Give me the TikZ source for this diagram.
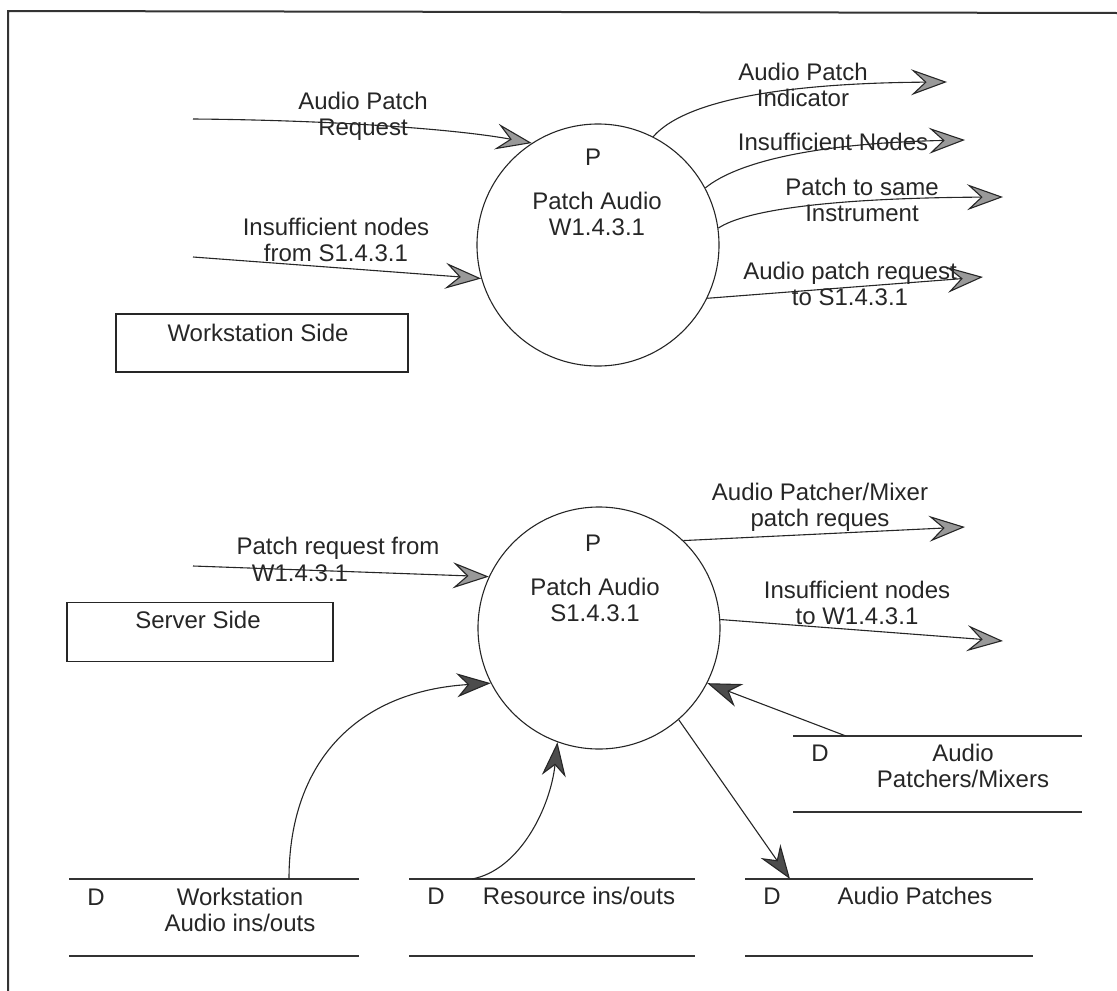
\documentclass[tikz,border=0pt]{standalone}
\usepackage{fontspec}
\setmainfont{Liberation Sans}
\usetikzlibrary{arrows.meta}
\begin{document}
\begin{tikzpicture}[x=1pt,y=-1pt,
  every node/.style={font=\fontsize{24}{26}\selectfont, text=black!85, inner sep=0pt},
  lbl/.style={align=center},
  proc/.style={draw=black!85, circle, minimum size=242pt, line width=1.1pt},
  flow/.style={draw=black!85, line width=1.1pt,
    -{Stealth[length=36pt,width=26pt,inset=14pt,fill=black!40]}},
  dflow/.style={draw=black!85, line width=1.1pt,
    -{Stealth[length=34pt,width=24pt,inset=11pt,fill=black!70]}},
  storeline/.style={line width=1.8pt, draw=black!80},
  sidebox/.style={draw=black!85, line width=1.1pt, rectangle}
]
\useasboundingbox (0,0) rectangle (1117,991);

% outer frame
\draw[line width=2pt, black!80] (8,995) -- (8,11) -- (1117,13);

% ---------------- workstation side ----------------
\node[proc] (pa1) at (598,245) {};
\node (pa1p) at (593,157) {P};
\node[lbl] (pa1t) at (597,214) {Patch Audio\\W1.4.3.1};

\node[sidebox, minimum width=292pt, minimum height=58pt] (wsbox) at (262,343) {};
\node (wstext) at (258,333) {Workstation Side};

\coordinate (in1) at (193,119);
\coordinate (in2) at (193,257);
\coordinate (out1) at (947,82);
\coordinate (out2) at (965,140);
\coordinate (out3) at (1003,197);
\coordinate (out4) at (983,277);

\draw[flow] (in1) .. controls +(127,1) and +(-82,-15) .. (pa1.123);
\draw[flow] (in2) -- (pa1.196);
\draw[flow] (pa1.63) .. controls +(35,-40) and +(-147,1) .. (out1);
\draw[flow] (pa1.28) .. controls +(33,-27) and +(-145,3) .. (out2);
\draw[flow] (pa1.8) .. controls +(27,-18) and +(-173,1) .. (out3);
\draw[flow] (pa1.-26) -- (out4);

\node[lbl] (l1) at (363,116) {Audio Patch\\Request};
\node[lbl] (l2) at (336,240) {Insufficient nodes\\from S1.4.3.1};
\node[lbl] (l3) at (803,85) {Audio Patch\\Indicator};
\node (l4) at (833,142) {Insufficient Nodes};
\node[lbl] (l5) at (862,200) {Patch to same\\Instrument};
\node[lbl] (l6) at (850,284) {Audio patch request\\to S1.4.3.1};

% ---------------- server side ----------------
\node[proc] (pa2) at (599,628) {};
\node (pa2p) at (593,543) {P};
\node[lbl] (pa2t) at (595,600) {Patch Audio\\S1.4.3.1};

\node[sidebox, minimum width=266pt, minimum height=59pt] (svbox) at (200,632) {};
\node (svtext) at (198,620) {Server Side};

\coordinate (in3) at (193,566);
\coordinate (out5) at (965,527);
\coordinate (out6) at (1003,641);

\draw[flow] (in3) -- (pa2.155);
\draw[flow] (pa2.46) -- (out5);
\draw[flow] (pa2.4) -- (out6);

\node (l7a) at (338,548) {Patch request from};
\node (l7b) at (300,573) {W1.4.3.1};
\node[lbl] (l8) at (820,507) {Audio Patcher/Mixer\\patch reques};
\node[lbl] (l9) at (857,603) {Insufficient nodes\\to W1.4.3.1};

% data stores
\draw[storeline] (69,879) -- (359,879) (69,956) -- (359,956);
\draw[storeline] (409,879) -- (695,879) (409,956) -- (695,956);
\draw[storeline] (745,879) -- (1033,879) (745,956) -- (1033,956);
\draw[storeline] (793,736) -- (1082,736) (793,812) -- (1082,812);

\node (d1) at (96,897) {D};
\node[lbl] (st1t) at (240,910) {Workstation\\Audio ins/outs};
\node (d2) at (436,896) {D};
\node (st2t) at (579,896) {Resource ins/outs};
\node (d3) at (772,896) {D};
\node (st3t) at (915,896) {Audio Patches};
\node (d4) at (820,753) {D};
\node[lbl] (st4t) at (963,766) {Audio\\Patchers/Mixers};

\coordinate (st1) at (289,879);
\coordinate (st2) at (472,879);
\coordinate (st3) at (790,879);
\coordinate (st4) at (846,736);

\draw[dflow] (st1) .. controls +(0,-119) and +(-132,8) .. (pa2.207);
\draw[dflow] (st2) .. controls +(48,-9) and +(-7,65) .. (pa2.250);
\draw[dflow] (st4) -- (pa2.-27);
\draw[dflow] (pa2.-49) -- (st3);
\end{tikzpicture}
\end{document}
